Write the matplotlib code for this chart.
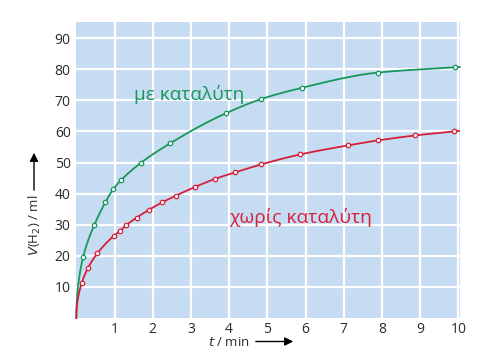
import numpy as np
import matplotlib
matplotlib.use("Agg")
import matplotlib.pyplot as plt

# Data
t_cat = [0.0, 0.18, 0.47, 0.76, 0.97, 1.17, 1.69, 2.46, 3.93, 4.84, 5.9, 7.89, 9.91]
v_cat = [0.0, 19.7, 29.9, 37.2, 41.5, 44.3, 49.9, 56.2, 65.9, 70.4, 74.0, 78.9, 80.6]

t_nocat = [0.0, 0.14, 0.31, 0.55, 0.99, 1.15, 1.31, 1.58, 1.9, 2.25, 2.6, 3.12, 3.62, 4.15,
           4.84, 5.86, 7.11, 7.89, 8.87, 9.89]
v_nocat = [0.0, 11.2, 16.2, 20.8, 26.5, 28.1, 29.9, 32.3, 34.8, 37.2, 39.3, 42.2, 44.7, 46.8,
           49.4, 52.6, 55.5, 57.1, 58.7, 60.0]

x_ticks = [1, 2, 3, 4, 5, 6, 7, 8, 9, 10]
y_ticks = [10, 20, 30, 40, 50, 60, 70, 80, 90]

label_cat = "με καταλύτη"
label_nocat = "χωρίς καταλύτη"

GREEN = "#17985a"
RED = "#d6203a"
BG = "#c6dcf2"


def pchip(x, y, xn):
    x = np.asarray(x, float); y = np.asarray(y, float)
    h = np.diff(x); d = np.diff(y) / h
    n = len(x); m = np.zeros(n)
    for k in range(1, n - 1):
        if d[k - 1] * d[k] > 0:
            w1 = 2 * h[k] + h[k - 1]; w2 = h[k] + 2 * h[k - 1]
            m[k] = (w1 + w2) / (w1 / d[k - 1] + w2 / d[k])
    m[0] = d[0]; m[-1] = d[-1]
    idx = np.clip(np.searchsorted(x, xn) - 1, 0, n - 2)
    hh = h[idx]; s = (xn - x[idx]) / hh
    h00 = 2 * s**3 - 3 * s**2 + 1; h10 = s**3 - 2 * s**2 + s
    h01 = -2 * s**3 + 3 * s**2; h11 = s**3 - s**2
    return h00 * y[idx] + h10 * hh * m[idx] + h01 * y[idx + 1] + h11 * hh * m[idx + 1]


def smooth(t, v):
    u = np.sqrt(np.asarray(t, float))
    un = np.linspace(0, u[-1] + 0.02, 400)
    return un**2, pchip(u, v, un)


fig = plt.figure(figsize=(4.86, 3.59), dpi=100)
ax = fig.add_axes([0.157, 0.114, 0.790, 0.825])
ax.set_facecolor(BG)
for s in ax.spines.values():
    s.set_visible(False)

ax.set_xlim(0.0, 10.05)
ax.set_ylim(0, 95.2)
ax.set_xticks(x_ticks)
ax.set_yticks(y_ticks)
ax.set_xticklabels([str(v) for v in x_ticks])
ax.set_yticklabels([str(v) for v in y_ticks])
ax.tick_params(length=0, labelsize=10, labelcolor="#2b2b2b")
ax.tick_params(axis="x", pad=2.5)
ax.tick_params(axis="y", pad=4)
for lab in ax.get_xticklabels() + ax.get_yticklabels():
    lab.set_fontfamily("Open Sans")
ax.grid(True, color="white", linewidth=1.6)
ax.set_axisbelow(True)

for t, v, c in [(t_cat, v_cat, GREEN), (t_nocat, v_nocat, RED)]:
    xs, ys = smooth(t, v)
    ax.plot(xs, ys, color=c, linewidth=1.3, zorder=3, clip_on=False)
    ax.plot(t[1:], v[1:], linestyle="none", marker="o", markersize=3.2,
            markerfacecolor="white", markeredgecolor=c, markeredgewidth=0.9, zorder=4,
            clip_on=False)

ax.text(1.52, 71.8, label_cat, color=GREEN, fontsize=13.7, family="Open Sans",
        ha="left", va="center")
ax.text(4.0, 32.3, label_nocat, color=RED, fontsize=13.8, family="Open Sans",
        ha="left", va="center")

# axis labels with arrows
fig.text(250 / 486, 1 - 342.5 / 359, "$t$ / min", fontsize=9.5, family="Open Sans",
         ha="right", va="center", color="#2b2b2b")
fig.add_artist(matplotlib.patches.FancyArrowPatch(
    (253 / 486, 1 - 341.5 / 359), (296 / 486, 1 - 341.5 / 359), transform=fig.transFigure,
    arrowstyle="-|>,head_length=5,head_width=2.5", color="black", linewidth=1.0))

fig.text(35 / 486, 1 - 195 / 359, "$V$(H$_2$) / ml", fontsize=9.5, family="Open Sans",
         ha="center", va="top", rotation=90, color="#2b2b2b")
fig.add_artist(matplotlib.patches.FancyArrowPatch(
    (34 / 486, 1 - 193 / 359), (34 / 486, 1 - 150 / 359), transform=fig.transFigure,
    arrowstyle="-|>,head_length=5,head_width=2.5", color="black", linewidth=1.0))

fig.savefig("out.png", dpi=100, facecolor="white")
